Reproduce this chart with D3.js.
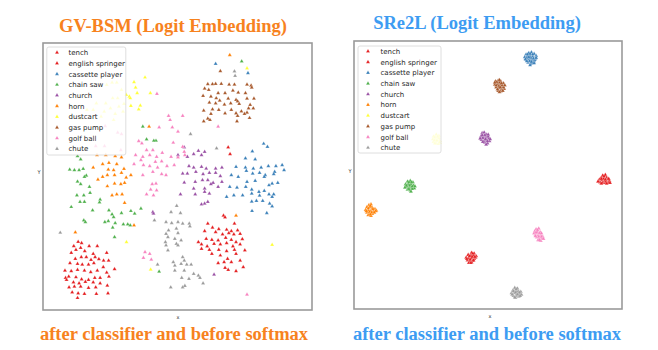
<!DOCTYPE html>
<html><head><meta charset="utf-8">
<script src="https://cdn.jsdelivr.net/npm/d3@7"></script>
<style>body{margin:0;background:#fff}svg{display:block}</style>
</head><body>
<svg id="chart" width="658" height="350"></svg>
<script>
// ---------- categories ----------
const classNames = ["tench","english springer","cassette player","chain saw","church","horn","dustcart","gas pump","golf ball","chute"];
const classColors = ["#e41a1c","#e41a1c","#377eb8","#4daf4a","#984ea3","#ff7f00","#ffff33","#a65628","#f781bf","#999999"];

// ---------- GV-BSM embedding (left) ----------
const gvTench = [[152,604],[163,608],[138,617],[160,622],[145,628],[130,637],[187,617],[213,617],[200,640],[173,632],[206,650],[218,656],[243,637],[233,660],[249,660],[193,658],[178,650],[162,650],[143,655],[126,668],[150,670],[165,672],[185,672],[202,668],[232,680],[268,686],[110,690],[130,692],[150,688],[172,690],[192,695],[213,690],[243,696],[112,712],[122,708],[145,710],[163,716],[185,718],[205,712],[222,712],[250,708],[115,718],[137,725],[155,728],[175,724],[200,725],[222,728],[123,740],[140,738],[160,738],[185,742],[208,740],[245,735],[133,755],[152,758],[172,760],[210,760],[247,758],[150,772]];
const gvSpringer = [[565,550],[615,526],[620,531],[650,550],[580,562],[600,566],[555,572],[625,568],[640,572],[660,570],[632,578],[612,582],[590,575],[648,582],[668,580],[535,605],[560,595],[578,598],[598,600],[622,592],[640,598],[655,605],[675,596],[545,612],[563,618],[585,610],[605,612],[625,608],[645,618],[668,612],[545,625],[570,628],[600,628],[625,632],[650,628],[578,640],[605,645],[628,655],[655,640],[683,630],[598,668],[617,665],[640,665],[668,660],[620,682],[630,688],[655,692],[678,680],[630,322],[636,342]];
const gvCassette = [[743,311],[755,320],[707,334],[685,355],[716,358],[655,380],[685,382],[710,385],[735,382],[758,378],[782,378],[802,375],[688,392],[708,400],[730,398],[748,405],[778,395],[808,390],[640,405],[662,410],[690,425],[716,422],[745,410],[775,402],[788,428],[635,440],[658,442],[686,440],[705,448],[728,455],[760,435],[770,430],[745,452],[625,470],[648,465],[676,465],[705,460],[730,466],[760,462],[775,462],[720,482],[740,482],[762,490],[705,484],[770,470],[706,512],[753,518],[770,498],[590,72],[693,100]];
const gvChainSaw = [[358,260],[370,298],[400,302],[393,302],[160,358],[150,348],[125,388],[140,390],[155,390],[168,386],[178,406],[172,410],[150,424],[160,432],[188,440],[148,465],[170,465],[190,458],[222,478],[220,486],[158,485],[172,485],[130,500],[198,510],[250,510],[170,540],[175,545],[237,545],[248,542],[260,522],[265,530],[270,548],[290,518],[320,512],[352,505],[332,520],[296,552],[310,552],[318,555],[262,562],[268,590],[410,693],[673,65]];
const gvChurch = [[535,332],[555,335],[520,342],[545,345],[490,322],[500,350],[470,345],[505,378],[520,382],[545,380],[560,385],[590,385],[610,382],[485,400],[500,400],[527,395],[550,402],[570,398],[590,398],[605,408],[490,427],[525,425],[548,420],[565,420],[582,428],[610,425],[520,445],[555,445],[575,432],[598,440],[525,462],[555,455],[570,460],[545,492],[555,490],[565,485],[478,462],[585,702],[390,515],[392,520]];
const gvHorn = [[378,260],[212,345],[240,345],[270,348],[290,352],[230,372],[250,368],[200,382],[275,372],[248,388],[265,390],[298,386],[215,418],[230,410],[245,405],[268,405],[290,398],[305,412],[320,405],[245,438],[268,430],[288,432],[300,428],[260,465],[275,462],[292,462],[300,488],[330,555],[143,576],[655,526],[635,46]];
const gvDustcart = [[365,113],[330,127],[260,128],[275,128],[243,135],[290,150],[335,143],[382,160],[340,160],[315,170],[318,175],[278,175],[262,175],[240,190],[305,165],[298,192],[350,197],[345,208],[320,198],[282,200],[255,205],[235,215],[200,210],[225,230],[295,215],[270,222],[210,190],[180,210],[265,240],[160,235],[306,605],[383,687],[770,613],[690,86]];
const gvGasPump = [[605,94],[565,133],[580,133],[590,132],[608,132],[633,134],[650,134],[690,134],[703,137],[705,143],[555,146],[568,150],[598,160],[620,160],[645,152],[662,158],[685,160],[550,168],[575,170],[592,175],[603,182],[630,176],[655,180],[660,184],[690,176],[712,176],[570,188],[590,190],[618,194],[638,190],[665,192],[700,195],[710,205],[580,208],[600,210],[640,210],[672,214],[695,205],[552,212],[575,222],[620,220],[655,220],[690,218],[660,228],[565,236],[552,244],[572,240],[658,244],[698,234],[682,222]];
const gvGolfBall = [[403,162],[440,228],[485,228],[445,240],[452,262],[470,275],[410,262],[345,303],[355,310],[455,308],[370,330],[390,330],[485,320],[490,335],[335,345],[358,350],[380,345],[402,350],[420,338],[448,350],[470,352],[492,345],[352,360],[398,365],[418,364],[330,372],[360,375],[380,378],[405,382],[435,378],[458,375],[390,395],[418,402],[358,405],[432,405],[388,432],[400,430],[383,448],[402,450],[370,462],[392,465],[365,635],[380,640],[360,652],[385,657],[690,762],[598,260],[238,258],[278,278],[290,282],[288,330],[208,318],[236,318]];
const gvChute = [[466,497],[478,518],[448,515],[395,540],[432,545],[450,548],[470,545],[485,550],[506,550],[508,558],[440,570],[465,565],[432,580],[470,578],[438,590],[460,595],[480,600],[430,605],[465,610],[432,615],[470,615],[438,630],[485,650],[490,660],[405,672],[455,665],[460,675],[480,670],[498,672],[512,672],[460,690],[490,690],[520,700],[535,705],[482,712],[505,715],[540,712],[550,728],[447,740],[485,740],[492,736],[95,577],[593,325],[510,282],[650,95],[652,108]];

// ---------- SRe2L embedding (right) ----------
const srTench = [[396,638],[404,640],[386,644],[394,646],[402,646],[410,648],[380,652],[388,654],[396,654],[404,656],[384,660],[392,662],[400,662],[388,668],[396,666],[408,652],[400,640],[390,648],[398,650],[406,650],[382,656],[392,658],[402,660],[394,668]];
const srSpringer = [[790,408],[798,406],[786,414],[794,416],[802,414],[780,420],[788,422],[796,424],[804,420],[810,424],[782,428],[790,430],[798,430],[806,430],[792,418],[800,426],[794,410],[786,418],[798,420],[808,418],[776,426],[786,432],[802,432],[812,430]];
const srCassette = [[560,48],[568,44],[576,42],[584,46],[590,52],[556,56],[564,54],[572,52],[580,54],[588,60],[560,64],[568,62],[576,64],[584,68],[566,72],[574,76],[580,74],[570,68],[562,58],[586,64],[572,46],[580,48],[564,48],[558,62],[574,58],[582,60],[590,58],[568,56],[576,70],[584,74],[572,80],[562,68]];
const srChainSaw = [[204,426],[212,424],[220,428],[198,434],[206,434],[214,434],[222,438],[200,442],[208,442],[216,444],[224,446],[204,450],[212,452],[218,448],[210,438],[202,440],[208,428],[216,428],[200,438],[218,440],[226,440],[208,448],[214,456],[196,444]];
const srChurch = [[428,282],[434,280],[440,286],[424,292],[432,292],[440,294],[448,298],[426,302],[434,304],[442,302],[450,306],[436,310],[444,312],[430,296],[438,300],[446,292],[436,288],[428,288],[444,306],[452,300],[422,298],[430,308],[440,316],[446,286]];
const srHorn = [[88,496],[94,494],[82,502],[90,502],[98,504],[106,508],[78,510],[86,512],[94,512],[102,514],[110,512],[82,518],[90,520],[98,522],[86,526],[94,528],[92,498],[86,506],[100,508],[108,514],[80,514],[90,516],[96,518],[92,524],[104,518]];
const srDustcart = [[282,292],[290,286],[298,290],[286,300],[294,298],[300,304],[282,308],[290,312],[296,314],[288,306],[280,300],[298,296],[286,294],[294,292],[284,304],[292,304],[300,310],[286,312]];
const srGasPump = [[468,128],[476,126],[484,128],[492,134],[466,138],[474,136],[482,138],[490,142],[494,150],[470,146],[478,148],[486,150],[476,156],[484,158],[472,130],[488,140],[480,132],[478,142],[480,124],[470,140],[486,134],[492,146],[482,146],[474,152],[480,160],[490,156],[466,132],[496,140]];
const srGolfBall = [[590,568],[598,566],[586,574],[594,576],[602,576],[588,584],[596,586],[604,584],[610,590],[592,592],[600,594],[608,596],[596,600],[604,602],[584,580],[600,580],[594,570],[590,578],[606,580],[598,590],[606,590],[612,596],[588,588],[600,600]];
const srChute = [[526,742],[534,744],[520,750],[528,750],[536,752],[544,754],[516,758],[524,758],[532,760],[540,760],[522,766],[530,766],[538,768],[528,772],[546,762],[532,754],[530,746],[522,752],[540,756],[528,756],[518,762],[534,762],[542,766],[526,770]];

const gvSeries = [gvTench,gvSpringer,gvCassette,gvChainSaw,gvChurch,gvHorn,gvDustcart,gvGasPump,gvGolfBall,gvChute];
const srSeries = [srTench,srSpringer,srCassette,srChainSaw,srChurch,srHorn,srDustcart,srGasPump,srGolfBall,srChute];

const panelTitles = ["GV-BSM (Logit Embedding)","SRe2L (Logit Embedding)"];
const panelCaptions = ["after classifier and before softmax","after classifier and before softmax"];

// ---------- drawing ----------
const svg = d3.select("#chart");
const panels = [
  {series: gvSeries, xd:[40,897], yd:[10,808], box:{x0:43,y0:43,x1:312,y1:310},
   leg:{x:46.8,y:47,w:79,h:108,y0:52.6,mx:57,tx:68.5}, color:"#f7821e",
   title:{x:173,y:31.5}, cap:{x:174,y:340}, xl:{x:178,y:319}, yl:{x:39,y:174}},
  {series: srSeries, xd:[43,848], yd:[8,805], box:{x0:354,y0:41,x1:622,y1:309},
   leg:{x:358,y:46,w:83,h:107,y0:51.4,mx:368,tx:380.5}, color:"#3d9cf2",
   title:{x:477,y:28.5}, cap:{x:487,y:340}, xl:{x:490,y:318}, yl:{x:350,y:173}}
];
const tri = d3.symbol().type(d3.symbolTriangle).size(7);

panels.forEach((p, pi) => {
  const x = d3.scaleLinear().domain(p.xd).range([p.box.x0, p.box.x1]);
  const y = d3.scaleLinear().domain(p.yd).range([p.box.y0, p.box.y1]);
  const g = svg.append("g");
  g.append("rect").attr("x",p.box.x0).attr("y",p.box.y0)
    .attr("width",p.box.x1-p.box.x0).attr("height",p.box.y1-p.box.y0)
    .attr("fill","#fff").attr("stroke","#9a9a9a").attr("stroke-width",1.6);
  p.series.forEach((pts, ci) => {
    g.append("g").selectAll("path").data(pts).join("path")
      .attr("d", tri)
      .attr("transform", d => `translate(${x(d[0])},${y(d[1])})`)
      .attr("fill", classColors[ci])
      .attr("stroke", "#fff").attr("stroke-width", 0.25);
  });
  const lg = g.append("g");
  lg.append("rect").attr("x",p.leg.x).attr("y",p.leg.y).attr("width",p.leg.w).attr("height",p.leg.h)
    .attr("rx",2).attr("fill","#fff").attr("fill-opacity",0.8).attr("stroke","#d6d6d6").attr("stroke-width",0.8);
  classNames.forEach((n, i) => {
    const yy = p.leg.y0 + i*10.7;
    lg.append("path").attr("d", tri).attr("transform",`translate(${p.leg.mx},${yy})`)
      .attr("fill", classColors[i]).attr("stroke","#fff").attr("stroke-width",0.25);
    lg.append("text").attr("x",p.leg.tx).attr("y",yy+2.5).text(n)
      .attr("font-family","DejaVu Sans").attr("font-size",7).attr("fill","#262626");
  });
  g.append("text").attr("x",p.xl.x).attr("y",p.xl.y).attr("text-anchor","middle").text("x")
    .attr("font-family","DejaVu Sans").attr("font-size",5).attr("fill","#333");
  g.append("text").attr("x",p.yl.x).attr("y",p.yl.y).attr("text-anchor","middle").text("Y")
    .attr("font-family","DejaVu Sans").attr("font-size",5).attr("fill","#333");
  g.append("text").attr("x",p.title.x).attr("y",p.title.y).attr("text-anchor","middle").text(panelTitles[pi])
    .attr("font-family","Liberation Serif").attr("font-weight","bold").attr("font-size",18.5).attr("fill",p.color);
  g.append("text").attr("x",p.cap.x).attr("y",p.cap.y).attr("text-anchor","middle").text(panelCaptions[pi])
    .attr("font-family","Liberation Serif").attr("font-weight","bold").attr("font-size",18.5).attr("fill",p.color);
});
</script>
</body></html>
